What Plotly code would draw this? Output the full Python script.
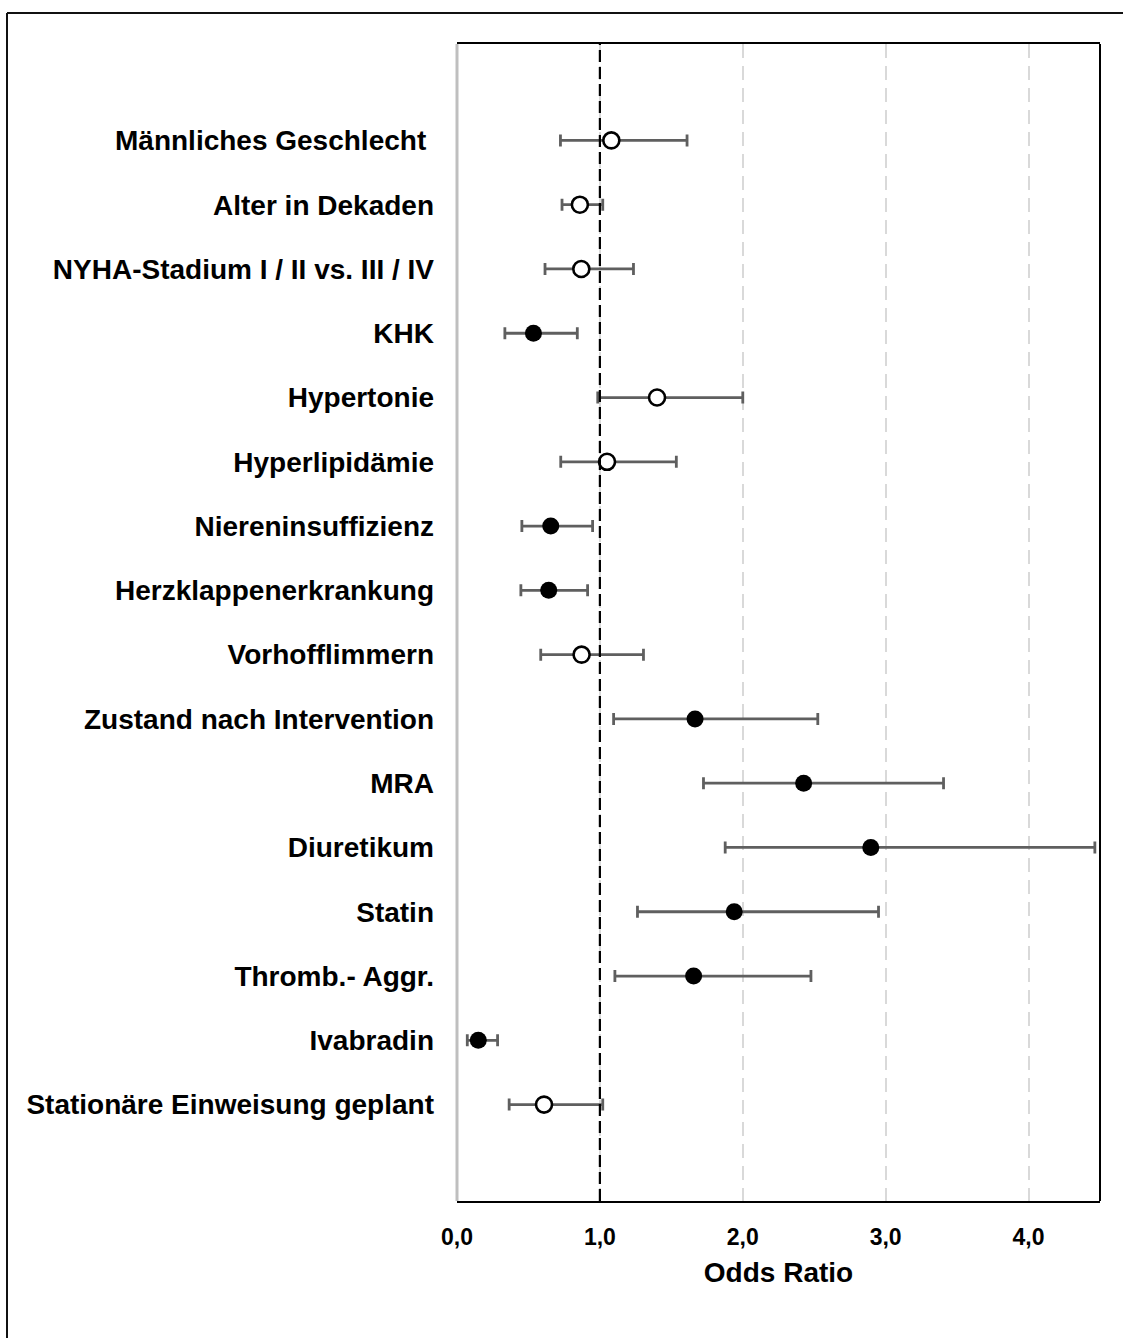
import plotly.graph_objects as go

labels = [
    "Männliches Geschlecht\u00a0",
    "Alter in Dekaden",
    "NYHA-Stadium I / II vs. III / IV",
    "KHK",
    "Hypertonie",
    "Hyperlipidämie",
    "Niereninsuffizienz",
    "Herzklappenerkrankung",
    "Vorhofflimmern",
    "Zustand nach Intervention",
    "MRA",
    "Diuretikum",
    "Statin",
    "Thromb.- Aggr.",
    "Ivabradin",
    "Stationäre Einweisung geplant",
]
odds_ratio = [1.08, 0.86, 0.87, 0.535, 1.40, 1.05, 0.656, 0.642, 0.872, 1.666, 2.426, 2.896, 1.94, 1.656, 0.149, 0.609]
ci_lower   = [0.724, 0.735, 0.616, 0.335, 0.985, 0.726, 0.454, 0.447, 0.586, 1.096, 1.725, 1.877, 1.263, 1.105, 0.072, 0.365]
ci_upper   = [1.61, 1.02, 1.235, 0.842, 2.0, 1.535, 0.949, 0.914, 1.305, 2.525, 3.405, 4.464, 2.95, 2.477, 0.284, 1.02]
significant = [False, False, False, True, False, False, True, True, False, True, True, True, True, True, True, False]
x_ticks = [0, 1, 2, 3, 4]
x_ticktext = ["0,0", "1,0", "2,0", "3,0", "4,0"]

# plot-area geometry in pixels (for paper-coord conversions of the outer frame)
W, H = 1123, 1338
L, R, T, B = 457, 1100, 44, 1201

def px_x(px):
    return (px - L) / (R - L)

def px_y(py):
    return (B - py) / (B - T)

fig = go.Figure()

for sig in (False, True):
    idx = [i for i, s in enumerate(significant) if s == sig]
    xs = [odds_ratio[i] for i in idx]
    ys = [i for i in idx]
    plus = [ci_upper[i] - odds_ratio[i] for i in idx]
    minus = [odds_ratio[i] - ci_lower[i] for i in idx]
    fig.add_trace(go.Scatter(
        x=xs, y=ys, mode="markers",
        error_x=dict(type="data", symmetric=False, array=plus, arrayminus=minus,
                     color="#5f5f5f", thickness=2.8, width=6),
        marker=dict(
            size=17 if sig else 16,
            color="black" if sig else "white",
            line=dict(color="black", width=0 if sig else 2.6),
        ),
        showlegend=False, hoverinfo="skip",
    ))

shapes = [
    # reference line at OR = 1
    dict(type="line", xref="x", yref="paper", x0=1, x1=1, y0=0, y1=1,
         line=dict(color="black", width=2.2, dash="12px,5px"), layer="above"),
    # left axis (gray)
    dict(type="line", xref="paper", yref="paper", x0=0, x1=0, y0=0, y1=1,
         line=dict(color="#bfbfbf", width=3), layer="above"),
    # right border (black)
    dict(type="line", xref="paper", yref="paper", x0=1, x1=1, y0=0, y1=1,
         line=dict(color="black", width=2), layer="above"),
    # outer frame: left and top
    dict(type="line", xref="paper", yref="paper", x0=px_x(7), x1=px_x(7), y0=px_y(13), y1=px_y(1340),
         line=dict(color="#111111", width=2)),
    dict(type="line", xref="paper", yref="paper", x0=px_x(7), x1=px_x(1125), y0=px_y(13), y1=px_y(13),
         line=dict(color="#111111", width=2)),
]

fig.update_layout(
    width=W, height=H,
    margin=dict(l=L, r=W - R, t=T, b=H - B),
    paper_bgcolor="white", plot_bgcolor="white",
    font=dict(family="Liberation Sans, Arial, sans-serif", color="black"),
    shapes=shapes,
    xaxis=dict(
        range=[0, 4.5], tickvals=x_ticks, ticktext=x_ticktext,
        showgrid=True, gridcolor="#d9d9d9", gridwidth=2, griddash="14px,8px",
        showline=True, linecolor="black", linewidth=2, mirror=True,
        ticks="", zeroline=False,
        tickfont=dict(size=23, family="Liberation Sans, Arial, sans-serif", weight="bold"),
        ticklabelstandoff=14,
        title=dict(text="Odds Ratio", font=dict(size=28, weight="bold"), standoff=14),
    ),
    yaxis=dict(
        range=[16.5, -1.5], tickvals=list(range(len(labels))), ticktext=labels,
        showgrid=False, zeroline=False, showline=False, ticks="",
        tickfont=dict(size=28, family="Liberation Sans, Arial, sans-serif", weight="bold"),
        ticklabelstandoff=22,
    ),
)

fig.write_html("out.html")
